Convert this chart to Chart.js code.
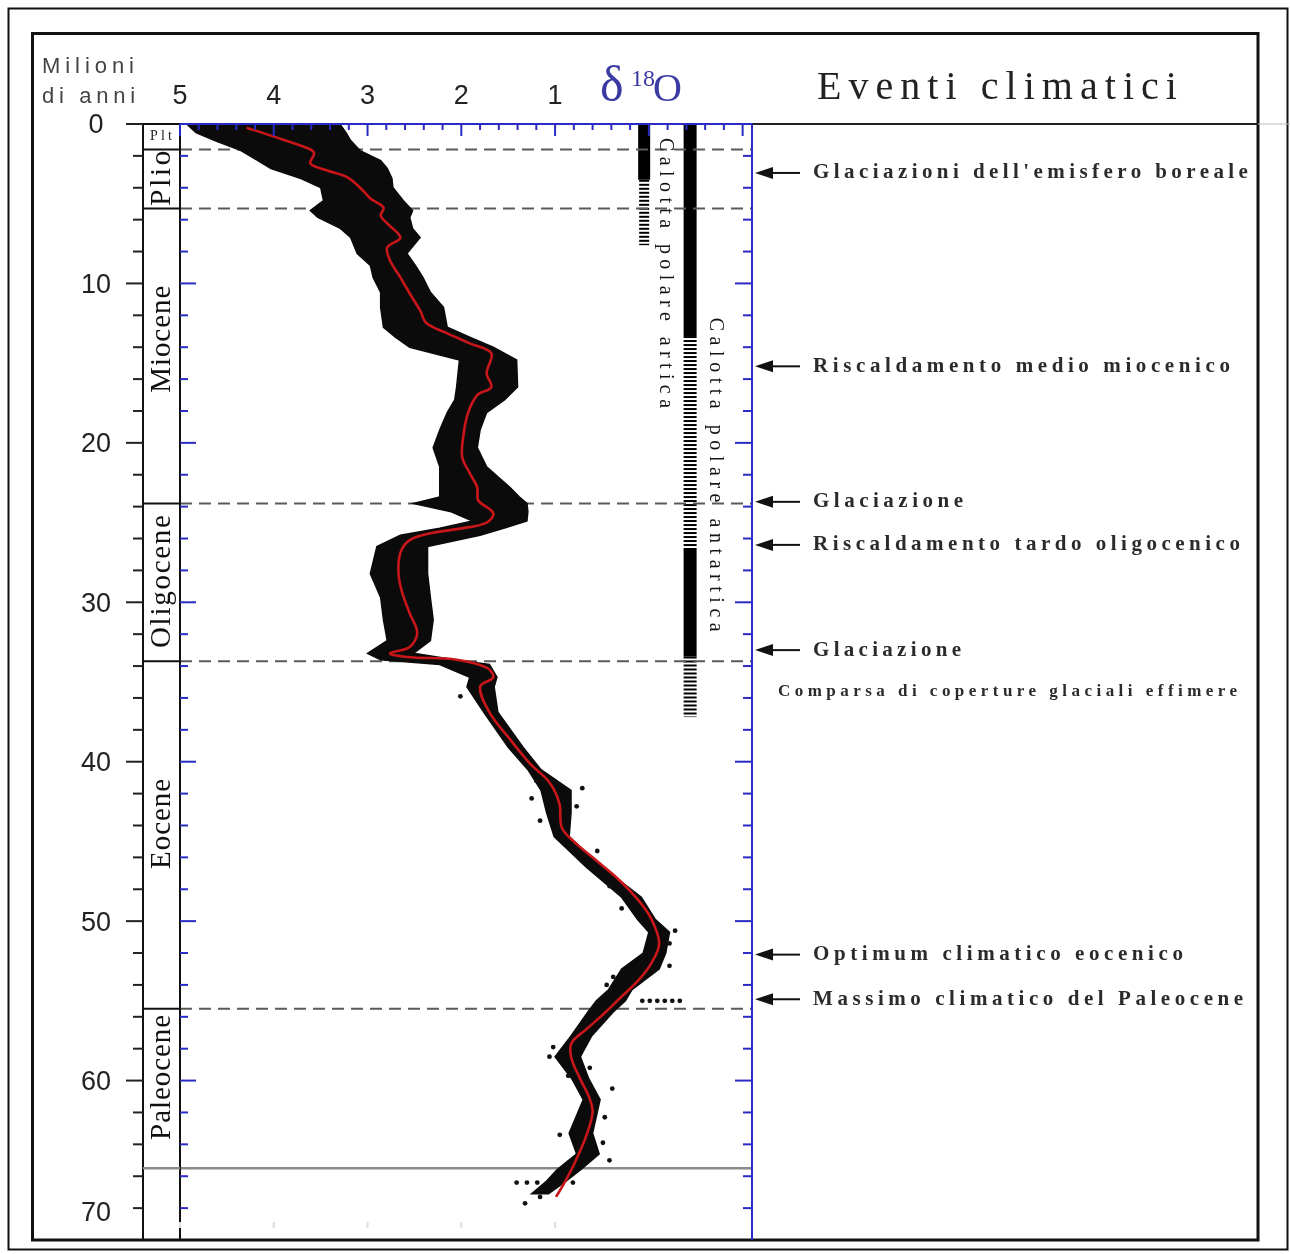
<!DOCTYPE html>
<html><head><meta charset="utf-8">
<script src="https://cdn.jsdelivr.net/npm/chart.js@4.4.1/dist/chart.umd.min.js"></script>
<style>html,body{margin:0;padding:0;background:#fff;}canvas{display:block;}</style>
</head><body>
<canvas id="c" width="1290" height="1254"></canvas>
<script>
// ---------- DATA ----------
// smoothed δ18O curve (red line): age in Ma, δ18O in ‰
const redAge = [0.23,0.73,1.54,1.85,2.48,2.92,3.36,4.17,4.67,5.24,5.74,6.24,7.12,7.74,8.56,9.62,10.63,11.69,12.50,13.13,13.76,14.38,15.63,16.51,17.0,18.15,19.64,20.9,21.9,22.8,23.6,24.4,25.0,25.35,25.67,26.1,26.9,28.2,29.4,30.7,31.9,32.8,33.2,33.43,33.6,34.1,34.7,35.3,36.9,38.6,40.1,41.3,42.6,44.1,44.9,46.2,47.4,48.7,49.9,51.4,52.6,53.7,54.9,55.7,56.8,57.6,58.5,59.8,61.0,62.0,63.5,64.9,66.2,67.3];
const redD18O = [4.29,4.03,3.63,3.57,3.61,3.43,3.21,3.05,2.97,2.83,2.86,2.79,2.65,2.79,2.76,2.65,2.55,2.44,2.37,2.15,1.91,1.68,1.73,1.68,1.83,1.93,1.98,1.99,1.91,1.83,1.82,1.66,1.73,1.98,2.33,2.55,2.65,2.67,2.63,2.55,2.47,2.55,2.76,2.58,2.05,1.73,1.66,1.80,1.70,1.48,1.27,1.06,0.955,0.93,0.82,0.56,0.32,0.11,-0.03,-0.11,-0.03,0.11,0.32,0.46,0.67,0.82,0.83,0.74,0.64,0.60,0.67,0.77,0.88,0.99];
// envelope of the dense cloud of measurements (high and low δ18O at each age)
const envAge  = [0.04,0.54,1.04,1.67,2.29,2.79,3.42,3.98,4.80,5.43,5.86,6.55,7.12,8.12,8.87,9.62,10.56,11.5,12.75,13.38,14.0,14.8,16.5,17.3,18.1,19.2,20.3,21.5,22.8,23.4,23.8,24.3,24.9,25.35,25.8,26.5,28.2,29.7,31.1,32.4,33.2,33.6,33.9,34.7,35.3,36.9,39.1,40.5,41.8,43.2,44.7,46.6,48.5,49.9,50.7,52.0,53.0,54.3,55.0,55.7,57.2,58.5,59.9,61.2,63.3,64.6,65.6,66.3,67.1];
const envHigh = [4.92,4.83,4.63,4.35,4.17,4.03,3.71,3.50,3.47,3.61,3.53,3.29,3.18,3.11,2.97,2.94,2.86,2.86,2.83,2.70,2.55,2.02,2.05,2.07,2.15,2.23,2.30,2.23,2.23,2.23,2.51,2.12,1.88,2.23,2.65,2.90,2.97,2.86,2.83,2.79,3.00,2.86,2.23,1.91,1.94,1.76,1.50,1.29,1.15,1.09,1.01,0.67,0.29,0.12,0.00,0.06,0.29,0.43,0.56,0.65,0.83,1.00,0.82,0.70,0.85,0.77,0.98,1.09,1.25];
const envLow  = [3.29,3.23,3.18,3.08,2.86,2.79,2.74,2.73,2.62,2.52,2.55,2.52,2.44,2.58,2.49,2.41,2.33,2.19,2.15,1.91,1.66,1.41,1.40,1.54,1.73,1.80,1.83,1.73,1.48,1.38,1.30,1.29,1.30,1.54,1.80,2.36,2.36,2.33,2.30,2.33,2.51,2.07,1.70,1.62,1.65,1.61,1.34,1.15,0.83,0.83,0.85,0.50,0.08,-0.07,-0.22,-0.18,-0.11,0.18,0.25,0.38,0.61,0.73,0.64,0.52,0.60,0.53,0.73,0.88,1.07];
// isolated measurements outside the dense band
const dotAge  = [35.9,41.66,42.3,43.7,42.8,49.2,50.6,51.4,52.8,54.0,55.0,55.0,55.0,55.0,55.0,55.0,58.5,59.7,59.2,60.5,63.4,63.9,65.0,66.4,66.4,66.4,66.4,67.3,67.7,41.2,45.6,47.8,53.5,57.9,62.3];
const dotD18O = [2.01,0.71,1.25,1.16,0.77,0.29,-0.28,-0.22,-0.22,0.45,-0.33,-0.25,-0.17,-0.09,-0.01,0.07,1.06,0.86,0.63,0.39,0.95,0.49,0.42,1.41,1.30,1.19,0.81,1.16,1.32,1.20,0.55,0.42,0.38,1.02,0.47];
// epochs
const epochNames  = ['Plt','Plio','Miocene','Oligocene','Eocene','Paleocene'];
const epochBounds = [0,1.6,5.3,23.8,33.7,55.5,65.5];
const epochLabelAge = [0.8,3.4,13.5,28.7,43.9,59.8];
const dashedBounds = [1.6,5.3,23.8,33.7,55.5];
const ktBound = 65.5;
// ice sheets [start, end, type]
const arcticIce = [[0,3.5,'solid'],[3.5,7.6,'hatch']];
const antarcticIce = [[0,13.3,'solid'],[13.3,26.6,'hatch'],[26.6,33.4,'solid'],[33.4,37.2,'hatch']];
const iceNames = ['Calotta polare artica','Calotta polare antartica'];
// climatic events
const eventNames = ["Glaciazioni dell'emisfero boreale","Riscaldamento medio miocenico","Glaciazione","Riscaldamento tardo oligocenico","Glaciazione","Optimum climatico eocenico","Massimo climatico del Paleocene"];
const eventAges = [3.07,15.2,23.7,26.4,33.0,52.1,54.9];
const noteText = 'Comparsa di coperture glaciali effimere';
const noteAge = 35.6;
// tick labels
const xTickLabels = [5,4,3,2,1];
const yTickLabels = [0,10,20,30,40,50,60,70];

// ---------- STYLE / LAYOUT ----------
const ARCTIC_X = 0.05, ANTARCTIC_X = -0.44;
const ARCTIC_TXT_X = -0.17, ANTARCTIC_TXT_X = -0.71;
const BLUE = '#2a2ac4';

const pts = (ages, vals) => ages.map((a,i)=>({x: vals[i], y: a}));
const bandPoly = pts(envAge, envHigh).concat(pts(envAge, envLow).reverse());

const datasets = [];
datasets.push({label:'curva', data: pts(redAge, redD18O), showLine:true, borderColor:'#c8161b', borderWidth:2.6, pointRadius:0, tension:0.35, order:0});
datasets.push({label:'dati', data: pts(dotAge, dotD18O), showLine:false, pointRadius:2.4, backgroundColor:'#111', borderWidth:0, order:1});
datasets.push({label:'nube', data: bandPoly, showLine:true, fill:'shape', backgroundColor:'#0b0b0b', borderColor:'#0b0b0b', borderWidth:1.5, pointRadius:0, tension:0, order:2});
dashedBounds.forEach(b => datasets.push({data:[{x:5,y:b},{x:-1.1,y:b}], showLine:true, borderColor:'#5a5a5a', borderWidth:2, borderDash:[12,7], pointRadius:0, order:3}));
datasets.push({data:[{x:5,y:ktBound},{x:-1.1,y:ktBound}], showLine:true, borderColor:'#8a8a8a', borderWidth:2.5, pointRadius:0, order:3});
arcticIce.forEach(s => datasets.push({data:[{x:ARCTIC_X,y:s[0]},{x:ARCTIC_X,y:s[1]}], showLine:true, borderColor:'#000', borderWidth: s[2]==='solid'?12:10, borderDash: s[2]==='solid'?[]:[2,2], borderCapStyle:'butt', pointRadius:0, order:4}));
antarcticIce.forEach(s => datasets.push({data:[{x:ANTARCTIC_X,y:s[0]},{x:ANTARCTIC_X,y:s[1]}], showLine:true, borderColor:'#000', borderWidth: 13, borderDash: s[2]==='solid'?[]:[2,2], borderCapStyle:'butt', pointRadius:0, order:4}));

function spaced(ctx, text, x, y, width, font, color, o) {
  o = o || {};
  ctx.save();
  ctx.font = font; ctx.fillStyle = color;
  ctx.textBaseline = 'middle'; ctx.textAlign = 'left';
  ctx.translate(x, y);
  if (o.rot) ctx.rotate(o.rot);
  if ('letterSpacing' in ctx) {
    ctx.letterSpacing = '0px';
    const w0 = ctx.measureText(text).width;
    const ls = (width - w0) / Math.max(1, text.length - 1);
    ctx.letterSpacing = ls.toFixed(2) + 'px';
  }
  ctx.fillText(text, o.center ? -width/2 : 0, 0);
  ctx.restore();
}
function line(ctx, x1, y1, x2, y2, color, w) {
  ctx.beginPath(); ctx.strokeStyle = color; ctx.lineWidth = w;
  ctx.moveTo(x1, y1); ctx.lineTo(x2, y2); ctx.stroke();
}

const decor = {
  id: 'decor',
  beforeDraw(chart) {
    const ctx = chart.ctx; ctx.save(); ctx.fillStyle = '#fff'; ctx.fillRect(0,0,chart.width,chart.height); ctx.restore();
  },
  afterDatasetsDraw(chart) {
    const ctx = chart.ctx, X = chart.scales.x, Y = chart.scales.y, ca = chart.chartArea;
    ctx.save();
    // frames
    ctx.strokeStyle = '#111'; ctx.lineWidth = 2; ctx.strokeRect(8.5, 8.5, 1279, 1241);
    ctx.lineWidth = 3; ctx.strokeRect(32.5, 33.5, 1225.5, 1206.5);
    line(ctx, ca.right, ca.top, 1258, ca.top, '#222', 2);
    line(ctx, 1258, ca.top, 1290, ca.top, '#bbb', 1);
    // epoch column
    line(ctx, 143, ca.top, 143, ca.bottom, '#111', 2);
    line(ctx, ca.left, ca.top, ca.left, ca.bottom, '#111', 2);
    line(ctx, 127, ca.top, ca.left, ca.top, '#111', 2);
    epochBounds.slice(1).forEach(b => {
      const py = Y.getPixelForValue(b);
      line(ctx, 143, py, ca.left, py, b === ktBound ? '#8a8a8a' : '#111', b === ktBound ? 2.5 : 2);
    });
    // left outer ticks + blue inner ticks
    for (let v = 0; v <= 68; v += 2) {
      const py = Y.getPixelForValue(v), major = v % 10 === 0;
      line(ctx, major ? 126 : 133, py, 143, py, '#222', 2);
      line(ctx, ca.left, py, ca.left + (major ? 16 : 8), py, BLUE, 2);
      line(ctx, ca.right - (major ? 17 : 9), py, ca.right, py, BLUE, 2);
    }
    // top blue ticks
    for (let k = -5; k <= 25; k++) {
      const px = X.getPixelForValue(k / 5), major = k % 5 === 0;
      line(ctx, px, ca.top, px, ca.top + (major ? 12 : 6), BLUE, 2);
    }
    line(ctx, ca.left, ca.top, ca.right, ca.top, BLUE, 2);
    line(ctx, ca.right, ca.top, ca.right, ca.bottom, BLUE, 2);
    // faint bottom ticks
    xTickLabels.forEach(v => { const px = X.getPixelForValue(v); line(ctx, px, 1222, px, 1228, '#ddd', 2); });
    // tick labels
    ctx.fillStyle = '#222'; ctx.font = '27px "Liberation Sans", Arial, sans-serif';
    ctx.textAlign = 'center'; ctx.textBaseline = 'middle';
    xTickLabels.forEach(v => ctx.fillText(String(v), X.getPixelForValue(v), 97));
    yTickLabels.forEach(v => ctx.fillText(String(v), 96, Y.getPixelForValue(Math.min(v, 68.2)) + 2));
    // axis titles
    spaced(ctx, 'Milioni', 42, 67, 92, '22px "Liberation Sans", Arial, sans-serif', '#444');
    spaced(ctx, 'di anni', 42, 97, 93, '22px "Liberation Sans", Arial, sans-serif', '#444');
    ctx.fillStyle = '#3a3aa2'; ctx.textAlign = 'left'; ctx.textBaseline = 'alphabetic';
    ctx.font = '50px "Liberation Serif", serif'; ctx.fillText('δ', 600, 101);
    ctx.font = '24px "Liberation Serif", serif'; ctx.fillText('18', 631, 86);
    ctx.font = '40px "Liberation Serif", serif'; ctx.fillText('O', 653, 101);
    spaced(ctx, 'Eventi climatici', 817, 88, 360, '40px "Liberation Serif", serif', '#222');
    // epoch labels
    epochNames.forEach((n, i) => {
      const py = Y.getPixelForValue(epochLabelAge[i]);
      if (n === 'Plt') { spaced(ctx, n, 161, py, 22, '14px "Liberation Serif", serif', '#222', {center:true}); return; }
      const w = {Plio:55, Miocene:107, Oligocene:133, Eocene:90, Paleocene:125}[n];
      spaced(ctx, n, 162, py, w, '29px "Liberation Serif", serif', '#111', {center:true, rot:-Math.PI/2});
    });
    // ice sheet labels
    spaced(ctx, iceNames[0], X.getPixelForValue(ARCTIC_TXT_X), Y.getPixelForValue(9.35), 270, '20px "Liberation Serif", serif', '#151515', {center:true, rot:Math.PI/2});
    spaced(ctx, iceNames[1], X.getPixelForValue(ANTARCTIC_TXT_X), Y.getPixelForValue(22.0), 314, '20px "Liberation Serif", serif', '#151515', {center:true, rot:Math.PI/2});
    // events with arrows
    const evW = [435,417,150,427,148,370,430];
    eventNames.forEach((n, i) => {
      const py = Y.getPixelForValue(eventAges[i]);
      line(ctx, 768, py, 800, py, '#111', 2);
      ctx.beginPath(); ctx.fillStyle = '#111';
      ctx.moveTo(755, py); ctx.lineTo(773, py - 6); ctx.lineTo(773, py + 6); ctx.closePath(); ctx.fill();
      spaced(ctx, n, 813, py, evW[i], 'bold 21px "Liberation Serif", serif', '#2b2b2b');
    });
    spaced(ctx, noteText, 778, Y.getPixelForValue(noteAge), 459, 'bold 17px "Liberation Serif", serif', '#2b2b2b');
    ctx.restore();
  }
};

new Chart(document.getElementById('c'), {
  type: 'scatter',
  data: { datasets },
  options: {
    responsive: false, animation: false, devicePixelRatio: 1, events: [],
    layout: { padding: { left: 180, top: 124, right: 538, bottom: 14 } },
    scales: {
      x: { type: 'linear', min: -1.1, max: 5, reverse: true, display: false },
      y: { type: 'linear', min: 0, max: 70, reverse: true, display: false }
    },
    plugins: { legend: { display: false }, tooltip: { enabled: false } }
  },
  plugins: [decor]
});
</script></body></html>
